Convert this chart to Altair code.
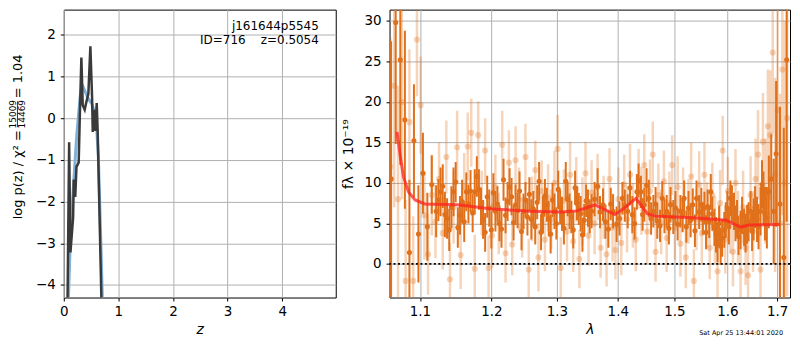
import altair as alt
import pandas as pd

FONT = "DejaVu Sans"
ORANGE = "#e0701a"

# ---------------- left panel: log p(z) ----------------
z_fit = [0.060, 0.098, 0.122, 0.171, 0.183, 0.210, 0.232, 0.273, 0.292, 0.322,
         0.347, 0.383, 0.414, 0.450, 0.487, 0.518, 0.530, 0.555, 0.579, 0.603,
         0.621, 0.688, 0.705]
logp_fit = [-5.5, -0.58, -3.22, -2.38, -1.47, -1.89, -1.17, -1.06, -0.03, 1.45,
            0.31, 0.20, 0.39, 0.58, 1.72, 0.50, -0.33, 0.20, -0.31, 0.36,
            -0.33, -4.3, -5.0]

z_smooth = [0.086, 0.110, 0.146, 0.177, 0.207, 0.238, 0.268, 0.299, 0.335, 0.389,
            0.450, 0.511, 0.572, 0.603, 0.633, 0.664, 0.706, 0.724]
logp_smooth = [-4.3, -3.3, -2.31, -1.63, -1.02, -0.41, 0.05, 0.50, 0.80, 0.64,
               0.46, 0.35, 0.12, -0.26, -0.94, -2.31, -4.3, -5.0]

z_ticks = [0, 1, 2, 3, 4]
logp_ticks = [-4, -3, -2, -1, 0, 1, 2]

# ---------------- right panel: spectrum ----------------
dark_wave = [1.062, 1.068, 1.074, 1.080, 1.086, 1.092, 1.098, 1.104, 1.110, 1.116,
             1.122, 1.128, 1.134, 1.140, 1.146, 1.152, 1.158, 1.164, 1.170, 1.176,
             1.182, 1.188, 1.194, 1.200, 1.206, 1.212, 1.218, 1.224, 1.230, 1.236,
             1.242, 1.248, 1.254, 1.260, 1.266, 1.272, 1.278, 1.284, 1.290, 1.296,
             1.302, 1.308, 1.314, 1.320, 1.326, 1.332, 1.338, 1.344, 1.350, 1.356,
             1.366, 1.375, 1.384, 1.392, 1.398, 1.408, 1.417, 1.425, 1.433, 1.440,
             1.446, 1.454, 1.462, 1.469, 1.478, 1.486, 1.493, 1.502, 1.511, 1.518,
             1.526, 1.534, 1.541, 1.550, 1.556, 1.562, 1.568, 1.575, 1.581, 1.587,
             1.594, 1.600, 1.606, 1.613, 1.619, 1.626, 1.633, 1.639, 1.646, 1.652,
             1.659, 1.666, 1.672, 1.679, 1.683, 1.693, 1.698, 1.706, 1.714, 1.720]
dark_flux = [10.5, 29.8, 25.2, 17.8, 1.4, 15.2, 3.7, 11.2, 4.6, 9.8,
             6.5, 8.9, 6.1, 4.2, 8.9, 4.5, 7.7, 8.9, 9.0, 8.9,
             9.2, 5.5, 8.3, 4.2, 6.5, 5.0, 10.4, 7.7, 8.3, 7.3,
             9.0, 6.5, 5.8, 5.5, 4.6, 10.2, 6.1, 7.3, 3.7, 6.5,
             9.2, 6.2, 10.2, 6.5, 4.2, 7.5, 6.2, 5.4, 6.9, 6.5,
             9.6, 7.3, 4.3, 6.5, 4.9, 8.1, 6.5, 6.1, 8.9, 8.9,
             7.3, 8.1, 6.5, 5.3, 8.1, 6.5, 7.3, 6.9, 6.5, 8.1,
             6.9, 7.3, 8.1, 7.3, 6.9, 7.1, 8.9, 4.5, 2.6, 2.2,
             4.2, 6.9, 8.1, 6.5, 5.7, 4.2, 4.5, 4.9, 6.5, 5.5,
             5.5, 6.5, 8.1, 5.7, 8.9, 6.5, 13.6, 7.4, 0.8, 25.2]
dark_err = [17, 15, 13, 11, 9, 7, 6, 5, 4.2, 3.6,
            3.2, 3.0, 2.8, 2.6, 3.0, 2.5, 2.7, 2.4, 2.6, 2.8,
            2.5, 2.4, 2.6, 2.3, 2.5, 2.2, 2.6, 2.4, 2.3, 2.5,
            2.4, 2.2, 2.3, 2.5, 2.2, 2.4, 2.3, 2.1, 2.4, 2.2,
            2.3, 2.1, 2.4, 2.2, 2.3, 2.1, 2.2, 2.0, 2.3, 2.1,
            2.2, 2.0, 2.3, 2.1, 2.2, 2.0, 2.1, 2.3, 2.2, 2.0,
            2.1, 2.3, 2.0, 2.2, 2.1, 2.0, 2.2, 2.1, 2.0, 2.2,
            2.1, 2.0, 2.2, 2.1, 2.0, 2.1, 2.2, 2.3, 2.4, 2.3,
            2.2, 2.1, 2.2, 2.3, 2.2, 2.4, 2.3, 2.4, 2.5, 2.6,
            2.8, 3.0, 3.3, 3.8, 4.5, 6.5, 9, 12, 16, 20]

dark2_wave = [1.125, 1.131, 1.137, 1.143, 1.149, 1.155, 1.161, 1.167, 1.173, 1.179,
              1.185, 1.191, 1.197, 1.203, 1.209, 1.215, 1.221, 1.227, 1.233, 1.239,
              1.245, 1.251, 1.257, 1.263, 1.269, 1.275, 1.281, 1.287, 1.293, 1.299,
              1.305, 1.311, 1.317, 1.323, 1.329, 1.335, 1.341, 1.347, 1.353, 1.361,
              1.370, 1.379, 1.388, 1.403, 1.412, 1.421, 1.429, 1.436, 1.443, 1.450,
              1.458, 1.466, 1.474, 1.482, 1.490, 1.498, 1.506, 1.515, 1.522, 1.530,
              1.538, 1.546, 1.553, 1.559, 1.565, 1.571, 1.578, 1.584, 1.590, 1.597,
              1.603, 1.609, 1.616, 1.622, 1.629, 1.636, 1.642, 1.649, 1.655, 1.662,
              1.669, 1.675, 1.688]
dark2_flux = [7.9, 9.6, 5.6, 7.0, 10.1, 6.0, 5.2, 7.4, 6.3, 10.8,
              7.1, 3.9, 6.9, 8.8, 7.4, 4.3, 6.0, 9.5, 5.1, 6.6,
              4.0, 7.9, 8.6, 6.8, 7.6, 3.9, 8.4, 5.6, 7.9, 5.0,
              7.0, 4.4, 8.0, 5.8, 9.4, 6.8, 3.6, 7.8, 5.9, 8.0,
              6.4, 5.2, 7.4, 5.6, 7.2, 9.4, 5.0, 10.3, 6.1, 9.7,
              5.6, 7.4, 4.7, 5.9, 4.4, 5.8, 4.9, 6.0, 4.6, 5.4,
              4.1, 6.4, 5.6, 3.9, 5.2, 6.2, 3.6, 5.0, 3.2, 5.4,
              4.6, 7.4, 5.0, 3.4, 6.0, 3.8, 5.2, 4.1, 7.0, 4.6,
              9.8, 6.2, 10.5]
dark2_err = [2.6, 2.7, 2.5, 2.6, 2.5, 2.4, 2.5, 2.4, 2.4, 2.5,
             2.3, 2.4, 2.3, 2.4, 2.2, 2.3, 2.2, 2.3, 2.2, 2.2,
             2.3, 2.2, 2.1, 2.2, 2.1, 2.2, 2.1, 2.2, 2.1, 2.0,
             2.1, 2.0, 2.1, 2.0, 2.1, 2.0, 2.1, 2.0, 2.1, 2.1,
             2.0, 2.1, 2.0, 2.1, 2.0, 2.1, 2.0, 2.1, 2.0, 2.1,
             2.0, 2.1, 2.0, 2.1, 2.0, 2.1, 2.0, 2.1, 2.0, 2.1,
             2.0, 2.1, 2.0, 2.1, 2.0, 2.1, 2.2, 2.2, 2.3, 2.2,
             2.2, 2.3, 2.2, 2.3, 2.3, 2.4, 2.4, 2.5, 2.6, 2.8,
             3.0, 3.3, 5.5]

light_wave = [1.061, 1.066, 1.071, 1.076, 1.081, 1.086, 1.091, 1.096, 1.101, 1.106,
              1.111, 1.116, 1.121, 1.126, 1.131, 1.136, 1.141, 1.146, 1.151, 1.156,
              1.161, 1.166, 1.171, 1.176, 1.181, 1.186, 1.191, 1.196, 1.201, 1.206,
              1.211, 1.216, 1.221, 1.226, 1.231, 1.236, 1.241, 1.246, 1.251, 1.256,
              1.261, 1.266, 1.271, 1.276, 1.281, 1.286, 1.291, 1.296, 1.301, 1.306,
              1.311, 1.316, 1.321, 1.326, 1.331, 1.336, 1.341, 1.346, 1.351, 1.356,
              1.361, 1.366, 1.371, 1.376, 1.381, 1.386, 1.391, 1.396, 1.401, 1.406,
              1.411, 1.416, 1.421, 1.426, 1.431, 1.436, 1.441, 1.446, 1.451, 1.456,
              1.461, 1.466, 1.471, 1.476, 1.481, 1.486, 1.491, 1.496, 1.501, 1.506,
              1.511, 1.516, 1.521, 1.526, 1.531, 1.536, 1.541, 1.546, 1.551, 1.556,
              1.561, 1.566, 1.571, 1.576, 1.581, 1.586, 1.591, 1.596, 1.601, 1.606,
              1.611, 1.616, 1.621, 1.626, 1.631, 1.636, 1.641, 1.646, 1.651, 1.656,
              1.661, 1.666, 1.671, 1.676, 1.681, 1.686, 1.691, 1.696, 1.701, 1.706,
              1.711, 1.716, 1.721]
light_flux = [12, 22, 8, 20, -2.1, 17.5, -2.1, 27.7, 19.6, 6.0,
              1.2, 8.5, 5.2, 10.5, 3.8, 13.2, -1.9, 7.0, 14.4, 1.1,
              9.5, 14.5, 16.2, -0.6, 15.9, 7.5, 14.0, -0.5, 3.5, 9.5,
              5.0, 14.7, 1.3, 12.5, 2.4, 12.8, 8.0, 4.5, 13.2, -0.7,
              6.8, 11.6, 0.8, 9.0, 3.0, 8.2, 5.5, 10.0, 14.2, -0.5,
              7.8, 4.0, 11.0, 2.8, 9.2, 0.6, 6.5, 11.2, 3.5, 8.8,
              5.0, 9.5, 2.0, 7.0, 1.2, 10.5, 4.5, 1.7, 8.0, 2.6,
              9.8, 5.5, 11.0, 6.0, 3.0, 10.5, 7.8, 12.2, 4.0, 9.0,
              13.5, 1.5, 8.5, 5.2, 10.2, 3.2, 7.5, 12.2, 4.5, 9.5,
              2.5, 8.0, 0.8, 6.5, 10.8, -2.1, 5.5, 9.8, 3.8, 11.0,
              6.0, 2.0, 8.5, 4.2, -0.9, 7.5, 14.0, 3.0, 9.0, 5.5,
              1.5, 10.0, 4.5, -0.9, 7.0, 2.0, -1.4, 8.5, 4.0, 10.5,
              13.5, -0.7, 15.1, 9.0, 17.0, 15.9, 26.1, 11.0, 19.0, 5.0,
              24.0, 10.0, 18.0]
light_err = [16, 15, 14, 12, 10, 9, 8, 7, 6, 5.5,
             5, 5, 4.5, 4.5, 4.5, 4.5, 4.5, 4.5, 4.5, 4.2,
             4.2, 4.2, 4.2, 4.2, 4.2, 4.0, 4.0, 4.0, 4.0, 4.0,
             3.8, 4.2, 3.6, 4.0, 3.8, 4.2, 3.9, 3.7, 4.1, 3.8,
             4.0, 3.6, 4.2, 3.8, 3.9, 4.1, 3.7, 4.0, 4.2, 3.8,
             3.9, 3.7, 4.1, 3.8, 4.0, 3.6, 4.2, 3.9, 3.7, 4.0,
             3.8, 4.1, 3.7, 3.9, 4.0, 3.8, 4.2, 3.6, 3.9, 4.0,
             3.7, 4.1, 3.8, 4.0, 3.9, 3.7, 4.2, 3.8, 4.0, 3.9,
             4.1, 3.7, 3.9, 4.0, 3.8, 4.2, 3.9, 3.7, 4.0, 3.8,
             4.1, 3.9, 3.8, 4.0, 4.2, 3.9, 3.8, 4.1, 3.9, 4.0,
             4.1, 3.9, 4.0, 4.2, 4.0, 4.1, 4.3, 4.2, 4.2, 4.2,
             4.3, 4.2, 4.5, 4.5, 4.5, 4.6, 4.8, 4.8, 5.0, 5.0,
             5.5, 5.5, 6.0, 6.5, 7.0, 8.0, 10, 12, 14, 16,
             18, 20, 22]

model_wave = [1.0697, 1.0735, 1.0780, 1.0847, 1.0935, 1.1066, 1.1516, 1.1985, 1.2573, 1.3055,
              1.3322, 1.3488, 1.3617, 1.3782, 1.3948, 1.4115, 1.4228, 1.4314, 1.4399, 1.4514,
              1.4661, 1.5349, 1.5972, 1.6263, 1.6427, 1.7060]
model_flux = [16.3, 13.6, 10.8, 8.9, 7.9, 7.4, 7.3, 6.8, 6.5, 6.4,
              6.55, 6.97, 7.3, 6.7, 6.1, 6.9, 7.6, 8.1, 7.3, 6.2,
              5.9, 5.7, 5.4, 4.55, 4.8, 4.86]

wave_ticks = [1.1, 1.2, 1.3, 1.4, 1.5, 1.6, 1.7]
flux_ticks = [0, 5, 10, 15, 20, 25, 30]

# ---------------- tables ----------------
pz_df = pd.DataFrame({"z": z_fit, "logp": logp_fit})
pzs_df = pd.DataFrame({"z": z_smooth, "logp": logp_smooth})
dw = dark_wave + dark2_wave
dfl = dark_flux + dark2_flux
de = dark_err + dark2_err
dark_df = pd.DataFrame({"wave": dw, "flux": dfl,
                        "lo": [f - e for f, e in zip(dfl, de)],
                        "hi": [f + e for f, e in zip(dfl, de)]})
light_df = pd.DataFrame({"wave": light_wave, "flux": light_flux,
                         "lo": [f - e for f, e in zip(light_flux, light_err)],
                         "hi": [f + e for f, e in zip(light_flux, light_err)]})
model_df = pd.DataFrame({"wave": model_wave, "flux": model_flux})

H = 289

# ---------------- left chart ----------------
xz = alt.X("z:Q", scale=alt.Scale(domain=[0, 4.98], nice=False, zero=False),
           axis=alt.Axis(values=z_ticks, format="d", title="z", titleFontStyle="italic",
                         labelPadding=4, titlePadding=4, labelFlush=False))
yz = alt.Y("logp:Q", scale=alt.Scale(domain=[-4.30, 2.60], nice=False, zero=False),
           axis=alt.Axis(values=logp_ticks, format="d", title=None,
                         labelPadding=5, labelFlush=False))

smooth = alt.Chart(pzs_df).mark_line(color="#7fb0d8", strokeWidth=3, clip=True).encode(x=xz, y=yz)
fit = alt.Chart(pz_df).mark_line(color="#3a3a3a", strokeWidth=2.5, clip=True).encode(x=xz, y=yz)


def label(text, x, y, size, align="center", angle=0, baseline="middle"):
    kw = dict(align=align, baseline=baseline, fontSize=size, font=FONT, color="black")
    if angle:
        kw["angle"] = angle
    return alt.Chart(pd.DataFrame({"t": [text]})).mark_text(**kw).encode(
        x=alt.value(x), y=alt.value(y), text="t:N")


txt1 = label("j161644p5545", 256, 16, 12, align="right")
txt2 = label("ID=716\u00a0\u00a0\u00a0 z=0.5054", 256, 31, 12, align="right")

# y-axis title built as rotated text: log p(z) / chi2 = 15009/14469 = 1.04
ttl_a = label("log p(z) / χ² =", -46, 121, 13, align="right", angle=270)
ttl_num = label("15009", -51, 105, 9, angle=270)
ttl_den = label("14469", -41.5, 105, 9, angle=270)
ttl_bar = alt.Chart(pd.DataFrame({"a": [0]})).mark_rule(color="black", strokeWidth=0.8).encode(
    x=alt.value(-46.5), y=alt.value(92), y2=alt.value(118))
ttl_b = label("= 1.04", -46, 89, 13, align="left", angle=270)

left = alt.layer(smooth, fit, txt1, txt2, ttl_a, ttl_num, ttl_den, ttl_bar, ttl_b).properties(
    width=273, height=H)

# ---------------- right chart ----------------
f_title = "fλ × 10⁻¹⁹"
xw = alt.X("wave:Q", scale=alt.Scale(type="log", domain=[1.060, 1.727], nice=False, zero=False),
           axis=alt.Axis(values=wave_ticks, format=".1f", title="λ", titleFontStyle="italic",
                         labelPadding=4, titlePadding=4, labelFlush=False))
yscale = alt.Scale(domain=[-4.15, 31.4], nice=False, zero=False)
yaxis = alt.Axis(values=flux_ticks, format="d", title=f_title, labelPadding=5, titlePadding=8,
                 labelFlush=False)
yf = alt.Y("flux:Q", scale=yscale, axis=yaxis)
ylo = alt.Y("lo:Q", scale=yscale, axis=yaxis)

light_bars = alt.Chart(light_df).mark_rule(color=ORANGE, opacity=0.3, strokeWidth=2.5, clip=True).encode(
    x=xw, y=ylo, y2="hi:Q")
light_pts = alt.Chart(light_df).mark_circle(color=ORANGE, opacity=0.3, size=38, clip=True).encode(x=xw, y=yf)
dark_bars = alt.Chart(dark_df).mark_rule(color=ORANGE, opacity=1, strokeWidth=2, clip=True).encode(
    x=xw, y=ylo, y2="hi:Q")
dark_pts = alt.Chart(dark_df).mark_circle(color=ORANGE, opacity=1, size=26, clip=True).encode(x=xw, y=yf)
model = alt.Chart(model_df).mark_line(color="#ff2020", opacity=0.75, strokeWidth=3, clip=True).encode(x=xw, y=yf)
zero = alt.Chart(pd.DataFrame({"flux": [0]})).mark_rule(
    color="black", strokeWidth=1.8, strokeDash=[2, 2.5]).encode(y=yf)
stamp = label("Sat Apr 25 13:44:01 2020", 395, 325, 6.5, align="right")

right = alt.layer(light_bars, light_pts, dark_bars, dark_pts, model, zero, stamp).properties(
    width=402, height=H)

chart = alt.hconcat(left, right, spacing=4).properties(
    padding={"left": 0, "top": 0, "right": 0, "bottom": 0}
).configure_view(stroke="black", strokeWidth=1).configure_axis(
    domain=False, grid=True, gridColor="#b0b0b0", gridWidth=1, gridOpacity=1,
    tickColor="black", tickSize=3.5, tickWidth=1,
    labelFont=FONT, labelFontSize=13.5, labelColor="black",
    titleFont=FONT, titleFontSize=14, titleFontWeight="normal", titleColor="black"
)

chart.save("out.html", embed_options={"renderer": "svg", "actions": False})
